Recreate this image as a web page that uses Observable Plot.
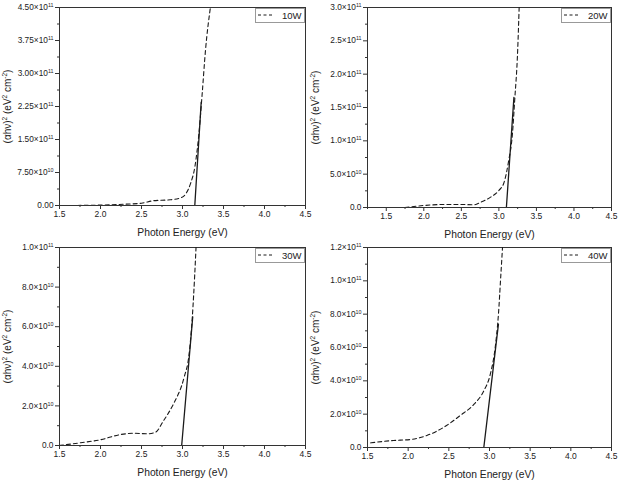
<!DOCTYPE html>
<html><head><meta charset="utf-8">
<script src="https://cdn.jsdelivr.net/npm/d3@7"></script>
<script src="https://cdn.jsdelivr.net/npm/@observablehq/plot@0.6"></script>
<style>
body{margin:0;background:#fff;font-family:"Liberation Sans",Arial,sans-serif;}
#grid{position:relative;width:620px;height:480px;overflow:hidden;}
.panel{position:absolute;width:310px;height:240px;}
.panel svg{overflow:visible;}
.legend{position:absolute;height:15px;width:50px;border:1px solid #999;background:#fff;box-sizing:border-box;
  display:flex;align-items:center;font-size:9.5px;color:#222;}
.legend svg{margin-left:2px;margin-right:8px;}
</style></head><body><div id="grid"></div>
<script>
// ---- data ----
const labels = ["10W", "20W", "30W", "40W"];

const energy10W = [1.63, 2.0, 2.3, 2.5, 2.65, 2.85, 2.98, 3.04, 3.10, 3.15, 3.20, 3.24, 3.28, 3.34];
const value10W  = [0, 1e9, 3e9, 5.2e9, 1.1e10, 1.3e10, 1.75e10, 2.65e10, 5.1e10, 8.7e10, 1.63e11, 2.54e11, 3.52e11, 4.5e11];
const fitE10W = [3.15, 3.228];
const fitV10W = [0, 2.35e11];

const energy20W = [1.75, 2.0, 2.27, 2.5, 2.67, 2.76, 2.89, 3.0, 3.07, 3.13, 3.18, 3.21, 3.25, 3.27];
const value20W  = [0, 3e9, 4.5e9, 4.5e9, 4e9, 8e9, 1.55e10, 2.55e10, 3.8e10, 7e10, 1.1e11, 1.6e11, 2.35e11, 3e11];
const fitE20W = [3.10, 3.20];
const fitV20W = [0, 1.65e11];

const energy30W = [1.5, 1.76, 2.0, 2.24, 2.41, 2.57, 2.67, 2.77, 2.89, 3.02, 3.08, 3.12, 3.15, 3.165];
const value30W  = [0, 1.4e9, 2.9e9, 5.5e9, 6.2e9, 5.9e9, 6.7e9, 1.26e10, 2.1e10, 3.45e10, 4.6e10, 6.5e10, 8.7e10, 1e11];
const fitE30W = [2.99, 3.125];
const fitV30W = [0, 6.5e10];

const energy40W = [1.54, 1.82, 2.03, 2.23, 2.44, 2.64, 2.81, 2.93, 3.01, 3.07, 3.11, 3.14, 3.16];
const value40W  = [2.8e9, 4.2e9, 4.8e9, 7.2e9, 1.22e10, 1.92e10, 2.6e10, 3.4e10, 4.4e10, 6.0e10, 8.0e10, 1.04e11, 1.2e11];
const fitE40W = [2.93, 3.11];
const fitV40W = [0, 7.4e10];

const xTicks = [1.5, 2.0, 2.5, 3.0, 3.5, 4.0, 4.5];
const xMinorTicks = [1.25, 1.75, 2.25, 2.75, 3.25, 3.75, 4.25];
const yTicks10W = [0, 7.5e10, 1.5e11, 2.25e11, 3.0e11, 3.75e11, 4.5e11];
const yTicks20W = [0, 5e10, 1e11, 1.5e11, 2e11, 2.5e11, 3e11];
const yTicks30W = [0, 2e10, 4e10, 6e10, 8e10, 1e11];
const yTicks40W = [0, 2e10, 4e10, 6e10, 8e10, 1e11, 1.2e11];

const xLabel = "Photon Energy (eV)";
const yLabel = "(αhν)² (eV² cm⁻²)";

// ---- helpers ----
const supMap = {"0":"⁰","1":"¹","2":"²","3":"³","4":"⁴","5":"⁵","6":"⁶","7":"⁷","8":"⁸","9":"⁹","-":"⁻"};
const unSup = Object.fromEntries(Object.entries(supMap).map(([k, v]) => [v, k]));
function sci(decimals) {
  return v => {
    if (v === 0) return (0).toFixed(decimals);
    const e = Math.floor(Math.log10(v) + 1e-9);
    const m = v / Math.pow(10, e);
    return m.toFixed(decimals) + "×10" + String(e).split("").map(c => supMap[c]).join("");
  };
}
function minors(major) {
  const out = [];
  for (let i = 0; i < major.length - 1; i++) out.push((major[i] + major[i + 1]) / 2);
  return out;
}
// turn unicode superscript characters into real raised tspans
const SVGNS = "http://www.w3.org/2000/svg";
function raiseSuperscripts(root) {
  root.querySelectorAll("text").forEach(t => {
    const targets = t.children.length ? Array.from(t.querySelectorAll("tspan")) : [t];
    for (const el of targets) {
      if (el.children.length) continue;
      const s = el.textContent;
      if (!/[⁰¹²³⁴⁵⁶⁷⁸⁹⁻]/.test(s)) continue;
      el.textContent = "";
      const runs = s.match(/([⁰¹²³⁴⁵⁶⁷⁸⁹⁻]+|[^⁰¹²³⁴⁵⁶⁷⁸⁹⁻]+)/g);
      for (const r of runs) {
        const sp = document.createElementNS(SVGNS, "tspan");
        if (unSup[r[0]] !== undefined) {
          sp.textContent = r.split("").map(c => unSup[c]).join("");
          sp.setAttribute("font-size", "65%");
          sp.setAttribute("baseline-shift", "55%");
        } else {
          sp.textContent = r;
        }
        el.appendChild(sp);
      }
    }
  });
}

const panels = [
  {label: labels[0], E: energy10W, V: value10W, fE: fitE10W, fV: fitV10W, xDomain: [1.5, 4.5], yTicks: yTicks10W, dec: 2,
   left: 0, top: 0, m: [7, 5, 35, 59]},
  {label: labels[1], E: energy20W, V: value20W, fE: fitE20W, fV: fitV20W, xDomain: [1.25, 4.5], yTicks: yTicks20W, dec: 1,
   left: 310, top: 0, m: [7, 9, 33, 57]},
  {label: labels[2], E: energy30W, V: value30W, fE: fitE30W, fV: fitV30W, xDomain: [1.5, 4.5], yTicks: yTicks30W, dec: 1,
   left: 0, top: 240, m: [7, 5, 35, 59]},
  {label: labels[3], E: energy40W, V: value40W, fE: fitE40W, fV: fitV40W, xDomain: [1.5, 4.5], yTicks: yTicks40W, dec: 1,
   left: 310, top: 240, m: [7, 9, 33, 57]}
];

const grid = document.getElementById("grid");
const ink = "#1a1a1a";

for (const p of panels) {
  const curve = p.E.map((x, i) => ({x, y: p.V[i]}));
  const fit = p.fE.map((x, i) => ({x, y: p.fV[i]}));
  const yMax = p.yTicks[p.yTicks.length - 1];
  const [mt, mr, mb, ml] = p.m;
  const chart = Plot.plot({
    width: 310, height: 240,
    marginTop: mt, marginRight: mr, marginBottom: mb, marginLeft: ml,
    style: {fontFamily: '"Liberation Sans", Arial, sans-serif', color: "#222", background: "transparent", overflow: "visible"},
    x: {domain: p.xDomain},
    y: {domain: [0, yMax]},
    marks: [
      Plot.axisX({ticks: xTicks.filter(t => t >= p.xDomain[0]), tickSize: 4, tickPadding: 1, tickFormat: d => d.toFixed(1), fontSize: 8.5, label: null, stroke: "#333"}),
      Plot.axisX({ticks: xMinorTicks.filter(t => t >= p.xDomain[0]), tickSize: 2, tickFormat: () => "", label: null, stroke: "#333"}),
      Plot.axisX({ticks: [], tickSize: 0, label: xLabel, labelAnchor: "center", labelArrow: "none", labelOffset: 30, fontSize: 10.3}),
      Plot.axisY({ticks: p.yTicks, tickSize: 4, tickPadding: 2, tickFormat: sci(p.dec), fontSize: 8.3, label: null, stroke: "#333"}),
      Plot.axisY({ticks: minors(p.yTicks), tickSize: 2, tickFormat: () => "", label: null, stroke: "#333"}),
      Plot.axisY({ticks: [], tickSize: 0, label: yLabel, labelAnchor: "center", labelArrow: "none", labelOffset: 56, fontSize: 10}),
      Plot.frame({stroke: "#333", strokeWidth: 1}),
      Plot.line(curve, {x: "x", y: "y", stroke: ink, strokeWidth: 1.1, strokeDasharray: "4,3", curve: "monotone-x", clip: true}),
      Plot.line(fit, {x: "x", y: "y", stroke: ink, strokeWidth: 1.3, clip: true})
    ]
  });
  raiseSuperscripts(chart);
  const div = document.createElement("div");
  div.className = "panel";
  div.style.left = p.left + "px";
  div.style.top = p.top + "px";
  div.appendChild(chart);
  const lg = document.createElement("div");
  lg.className = "legend";
  lg.style.right = mr + "px";
  lg.style.top = (mt + 0.5) + "px";
  lg.innerHTML = '<svg width="16" height="6"><line x1="0" y1="3" x2="16" y2="3" stroke="' + ink + '" stroke-width="1" stroke-dasharray="3,2.5"/></svg><span>' + p.label + '</span>';
  div.appendChild(lg);
  grid.appendChild(div);
}
</script>
</body></html>
